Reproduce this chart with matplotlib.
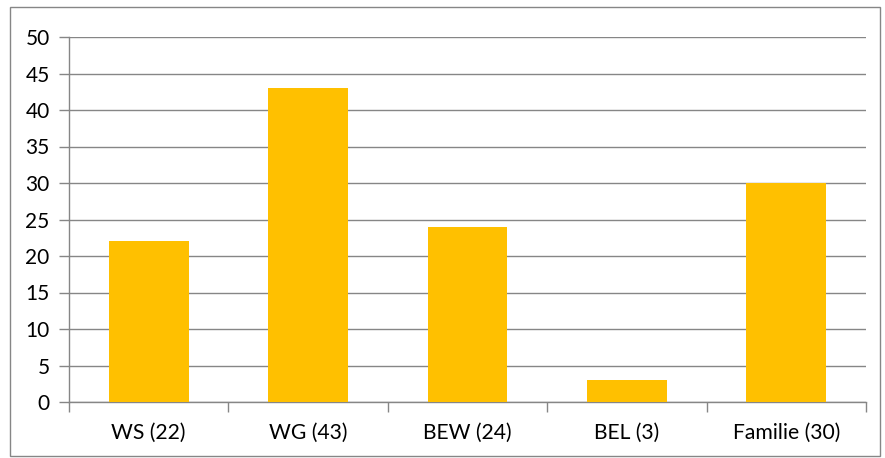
import matplotlib
matplotlib.use("Agg")
import matplotlib.pyplot as plt
from matplotlib.patches import Rectangle

categories = ["WS (22)", "WG (43)", "BEW (24)", "BEL (3)", "Familie (30)"]
values = [22, 43, 24, 3, 30]
yticks = [0, 5, 10, 15, 20, 25, 30, 35, 40, 45, 50]

W, H = 885, 458
fig = plt.figure(figsize=(W / 100, H / 100), dpi=100)
plt.rcParams["font.family"] = ["Lato", "DejaVu Sans"]

# chart area border
fig.patches.append(Rectangle((10 / W, 1 - 456 / H), 870 / W, 449 / H,
                             transform=fig.transFigure, fill=False,
                             edgecolor="#868686", linewidth=1.0))

left, right, top, bottom = 69, 866, 37, 402
ax = fig.add_axes([left / W, 1 - bottom / H, (right - left) / W, (bottom - top) / H])

grid_color = "#868686"
x = list(range(len(categories)))
ax.bar(x, values, width=0.5, color="#FFC000", zorder=3)
ax.set_xlim(-0.5, len(categories) - 0.5)
ax.set_ylim(0, 50)
ax.set_yticks(yticks)
ax.yaxis.grid(True, color=grid_color, linewidth=1.0, zorder=0)
ax.set_xticks(x)
ax.set_xticklabels(categories, fontsize=15.2)
ax.set_xticks([i - 0.5 for i in range(len(categories) + 1)], minor=True)
ax.tick_params(axis="x", which="major", length=0, pad=15)
ax.tick_params(axis="x", which="minor", length=7, color=grid_color, width=1.0)
ax.tick_params(axis="y", length=7, color=grid_color, width=1.0, labelsize=15, pad=7)
for side in ["top", "right"]:
    ax.spines[side].set_visible(False)
for side in ["left", "bottom"]:
    ax.spines[side].set_color(grid_color)
    ax.spines[side].set_linewidth(1.0)

fig.savefig("out.png", dpi=100)
